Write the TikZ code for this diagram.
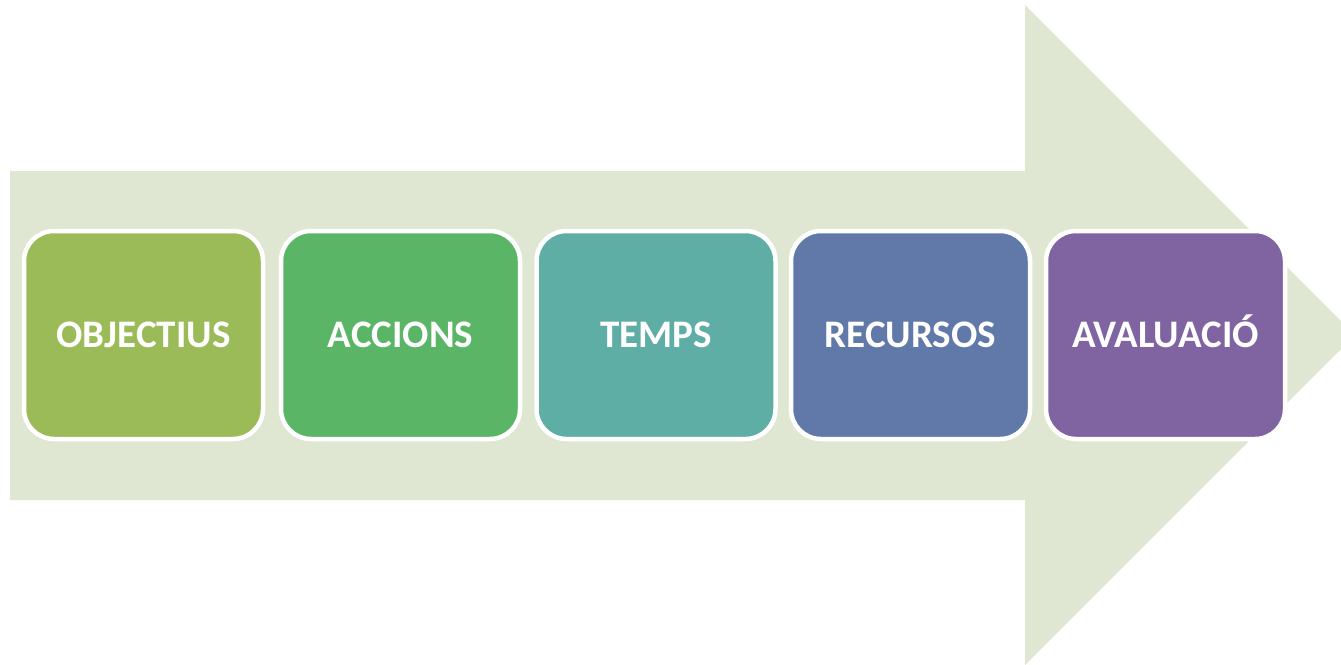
\documentclass[tikz,border=0pt]{standalone}
\usepackage{fontspec}
\setmainfont{Carlito}
\definecolor{arrowfill}{HTML}{DFE7D3}
\definecolor{cA}{HTML}{9BBB59}
\definecolor{cB}{HTML}{5BB567}
\definecolor{cC}{HTML}{5FAEA6}
\definecolor{cD}{HTML}{6079A8}
\definecolor{cE}{HTML}{8064A2}
\tikzset{
  stagebox/.style={draw=white, line width=4.5pt, rounded corners=30pt,
    minimum width=239pt, minimum height=208pt, inner sep=0pt,
    text height=25pt, text depth=0pt,
    text=white, font=\fontsize{39}{42}\selectfont\bfseries}
}
\begin{document}
\begin{tikzpicture}[x=1pt,y=-1pt]
\useasboundingbox (0,0) rectangle (1341,664);
\begin{scope}
\clip (0,0) rectangle (1341,664);
\fill[arrowfill] (10,171) -- (1025,171) -- (1025,5) -- (1355,335) -- (1025,665) -- (1025,500) -- (10,500) -- cycle;
\end{scope}
\node[stagebox, fill=cA] (obj) at (143.5,335) {OBJECTIUS};
\node[stagebox, fill=cB] (acc) at (400.5,335) {ACCIONS};
\node[stagebox, fill=cC] (tem) at (656,335) {TEMPS};
\node[stagebox, fill=cD] (rec) at (910.5,335) {RECURSOS};
\node[stagebox, fill=cE] (ava) at (1165.5,335) {AVALUACIÓ};
\end{tikzpicture}
\end{document}
